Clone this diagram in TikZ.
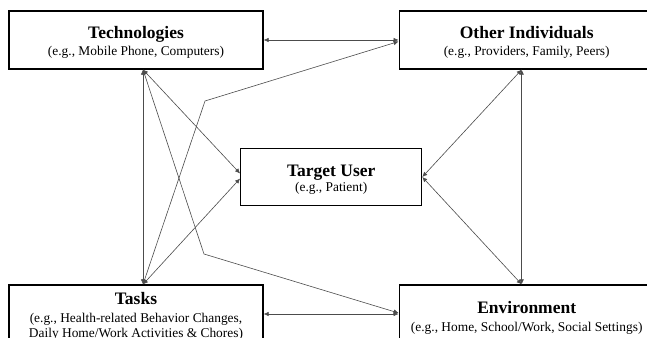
\documentclass[tikz,border=0pt]{standalone}
\usepackage{fontspec}
\setmainfont{Liberation Serif}
\usetikzlibrary{arrows.meta}
\begin{document}
\begin{tikzpicture}[x=1pt,y=-1pt,
  box/.style={draw=black,line width=1.2pt,minimum width=254pt,inner sep=0pt},
  ttl/.style={anchor=base,inner sep=0pt,font=\fontsize{17.5}{20}\selectfont\bfseries},
  sub/.style={anchor=base,inner sep=0pt,font=\fontsize{13.4}{15}\selectfont},
  link/.style={draw=black!70,line width=0.6pt,{Latex[length=5pt,width=4.5pt]}-{Latex[length=5pt,width=4.5pt]}}]
\useasboundingbox (0,0) rectangle (647,337);
\clip (0,0) rectangle (647,337);
\fill[white] (0,0) rectangle (647,337);
% boxes
\node[box,minimum height=58pt] (tech) at (136,40) {};
\node[box,minimum height=58pt,minimum width=255pt] (other) at (526.7,40) {};
\node[box,minimum height=57.7pt,minimum width=181pt] (target) at (331.2,177) {};
\node[box,minimum height=70pt] (tasks) at (136,320) {};
\node[box,minimum height=70pt,minimum width=255pt] (env) at (526.7,320) {};
% texts
\node[ttl] (techT) at (136,38.3) {Technologies};
\node[sub] (techS) at (136,56) {(e.g., Mobile Phone, Computers)};
\node[ttl] (otherT) at (526.7,38.3) {Other Individuals};
\node[sub] (otherS) at (526.7,56) {(e.g., Providers, Family, Peers)};
\node[ttl] (targetT) at (331.2,176) {Target User};
\node[sub] (targetS) at (331.2,191.7) {(e.g., Patient)};
\node[ttl] (tasksT) at (136,304) {Tasks};
\node[sub] (tasksS1) at (136,322.7) {(e.g., Health-related Behavior Changes,};
\node[sub] (tasksS2) at (136,337.7) {Daily Home/Work Activities \& Chores)};
\node[ttl] (envT) at (526.7,313.3) {Environment};
\node[sub] (envS) at (526.7,331.7) {(e.g., Home, School/Work, Social Settings)};
% bend points
\coordinate (b1) at (204,254);
\coordinate (b2) at (205,101);
% connectors
\draw[link] (tech.east) -- (other.west);
\draw[link] ([yshift=6pt]tasks.east) -- ([yshift=6pt]env.west);
\draw[link] ([xshift=-5pt]other.south) -- ([xshift=-5pt]env.north);
\draw[link] ([xshift=-5pt]other.south) -- (target.east);
\draw[link] ([xshift=-5pt]env.north) -- (target.east);
\draw[link] ([xshift=7pt]tech.south) -- ([xshift=7pt]tasks.north);
\draw[link] ([xshift=7pt]tech.south) -- ([yshift=3.5pt]target.west);
\draw[link] ([xshift=7pt]tasks.north) -- ([yshift=-1.5pt]target.west);
\draw[link] ([xshift=7pt]tech.south) -- (b1) -- ([yshift=7pt]env.west);
\draw[link] ([xshift=7pt]tasks.north) -- (b2) -- ([yshift=-1.5pt]other.west);
\end{tikzpicture}
\end{document}
